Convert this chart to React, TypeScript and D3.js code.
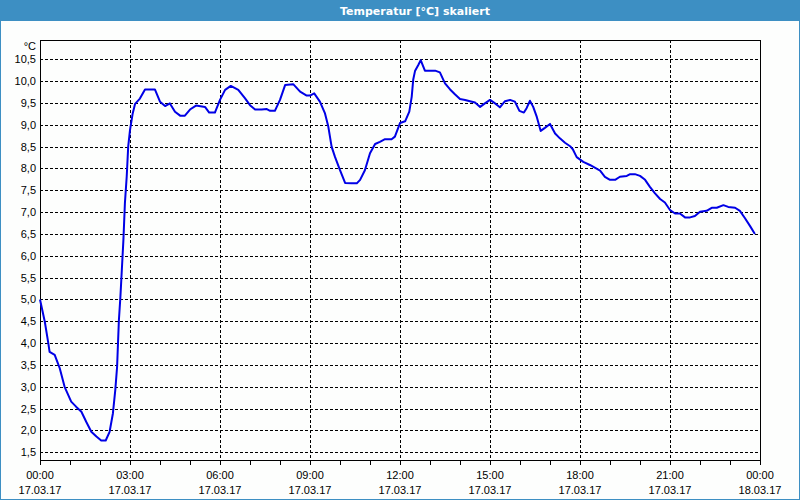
import React from "react";
import * as d3 from "d3";

// time in hours since 17.03.17 00:00, temperature in °C
const hours: number[] = [
  0.0, 0.16, 0.27, 0.32, 0.49, 0.66, 0.82, 1.04, 1.21, 1.38, 1.54, 1.71, 1.88, 2.04, 2.19, 2.32, 2.43, 2.51, 2.57, 2.6,
  2.63, 2.68, 2.71, 2.78, 2.83, 2.89, 2.94, 3.0, 3.09, 3.17, 3.33, 3.5, 3.83, 4.0, 4.17, 4.33, 4.5, 4.67, 4.83, 5.0,
  5.2, 5.5, 5.64, 5.83, 6.0, 6.17, 6.36, 6.61, 6.83, 7.0, 7.17, 7.39, 7.56, 7.67, 7.83, 8.0, 8.17, 8.44, 8.67, 8.89,
  9.0, 9.14, 9.33, 9.5, 9.61, 9.72, 9.83, 10.0, 10.17, 10.39, 10.56, 10.67, 10.83, 11.0, 11.17, 11.33, 11.5, 11.72,
  11.83, 12.0, 12.17, 12.31, 12.39, 12.44, 12.5, 12.61, 12.69, 12.83, 13.17, 13.33, 13.5, 13.67, 13.83, 14.0, 14.17,
  14.33, 14.5, 14.67, 14.83, 15.0, 15.17, 15.33, 15.5, 15.67, 15.83, 15.98, 16.13, 16.22, 16.33, 16.44, 16.56, 16.69,
  16.83, 17.0, 17.17, 17.33, 17.5, 17.67, 17.76, 17.89, 18.11, 18.33, 18.67, 18.83, 19.0, 19.17, 19.33, 19.56, 19.67,
  19.83, 20.0, 20.17, 20.33, 20.5, 20.67, 20.83, 21.0, 21.17, 21.33, 21.5, 21.67, 21.83, 22.0, 22.22, 22.39, 22.56,
  22.78, 22.94, 23.17, 23.33, 23.5, 23.67, 23.83,
];
const temps: number[] = [
  5.0, 4.49, 4.03, 3.8, 3.73, 3.42, 3.0, 2.66, 2.54, 2.43, 2.2, 1.97, 1.86, 1.77, 1.77, 1.97, 2.39, 2.93, 3.46, 4.0,
  4.53, 5.06, 5.45, 6.36, 7.2, 7.81, 8.5, 8.88, 9.26, 9.48, 9.6, 9.81, 9.81, 9.53, 9.43, 9.49, 9.3, 9.21, 9.21, 9.35,
  9.44, 9.41, 9.28, 9.28, 9.57, 9.8, 9.89, 9.8, 9.61, 9.45, 9.35, 9.35, 9.36, 9.32, 9.32, 9.57, 9.91, 9.93, 9.76, 9.67,
  9.67, 9.72, 9.53, 9.26, 8.96, 8.5, 8.27, 7.96, 7.67, 7.66, 7.66, 7.74, 7.96, 8.35, 8.56, 8.61, 8.67, 8.67,
  8.73, 9.04, 9.08, 9.3, 9.64, 10.03, 10.23, 10.37, 10.48, 10.24, 10.24, 10.2, 9.95, 9.81, 9.7, 9.59, 9.57,
  9.54, 9.51, 9.41, 9.49, 9.57, 9.49, 9.4, 9.54, 9.57, 9.53, 9.32, 9.28, 9.38, 9.55, 9.41, 9.18, 8.86,
  8.93, 9.02, 8.8, 8.69, 8.59, 8.51, 8.44, 8.26, 8.15, 8.08, 7.95, 7.81, 7.74, 7.74, 7.81, 7.83, 7.87,
  7.87, 7.83, 7.74, 7.58, 7.43, 7.3, 7.22, 7.05, 6.97, 6.97, 6.88, 6.88, 6.91, 7.01, 7.03, 7.1, 7.1,
  7.16, 7.12, 7.1, 7.03, 6.86, 6.68, 6.5,
];

const yTicks: number[] = [1.5, 2, 2.5, 3, 3.5, 4, 4.5, 5, 5.5, 6, 6.5, 7, 7.5, 8, 8.5, 9, 9.5, 10, 10.5];
const xTickHours: number[] = [0, 3, 6, 9, 12, 15, 18, 21, 24];
const xTimeLabels: string[] = ["00:00", "03:00", "06:00", "09:00", "12:00", "15:00", "18:00", "21:00", "00:00"];
const xDateLabels: string[] = [
  "17.03.17", "17.03.17", "17.03.17", "17.03.17", "17.03.17", "17.03.17", "17.03.17", "17.03.17", "18.03.17",
];
const title = "Temperatur [°C] skaliert";
const unit = "°C";

export default function App() {
  const W = 800;
  const H = 500;
  const left = 40, right = 760, top = 40, bottom = 460;
  const x = d3.scaleLinear().domain([0, 24]).range([left, right]);
  const y = d3.scaleLinear().domain([1.324, 10.942]).range([bottom, top]);
  const data = hours.map((h, i) => [h, temps[i]] as [number, number]);
  const line = d3.line<[number, number]>().x((d) => x(d[0])).y((d) => y(d[1]));
  const minor = d3.range(0, 25, 1);
  const font = "'Liberation Sans', Arial, sans-serif";
  const blue = "#3d8fc3";
  return (
    <svg width={W} height={H} style={{ position: "absolute", left: 0, top: 0, display: "block" }}>
      <rect x={0} y={0} width={W} height={H} fill="#fdfefd" />
      <rect x={0.5} y={0.5} width={W - 1} height={H - 1} fill="none" stroke={blue} strokeWidth={1} />
      <rect x={0} y={0} width={W} height={21} fill={blue} />
      <text x={W / 2 + 15} y={15} textAnchor="middle" fill="#fff" fontFamily="'DejaVu Sans', Verdana, sans-serif" fontWeight="bold" fontSize={11}>
        {title}
      </text>
      {/* grid */}
      {yTicks.map((t) => (
        <line key={"gy" + t} x1={left} x2={right} y1={Math.round(y(t)) + 0.5} y2={Math.round(y(t)) + 0.5} stroke="#000" strokeDasharray="3,2" shapeRendering="crispEdges" />
      ))}
      {xTickHours.slice(1, -1).map((h) => (
        <line key={"gx" + h} x1={Math.round(x(h)) + 0.5} x2={Math.round(x(h)) + 0.5} y1={top} y2={bottom} stroke="#000" strokeDasharray="3,2" shapeRendering="crispEdges" />
      ))}
      <rect x={left + 0.5} y={top + 0.5} width={right - left} height={bottom - top} fill="none" stroke="#000" shapeRendering="crispEdges" />
      {minor.map((h) => (
        <line key={"mt" + h} x1={Math.round(x(h)) + 0.5} x2={Math.round(x(h)) + 0.5} y1={bottom} y2={bottom + 5} stroke="#000" shapeRendering="crispEdges" />
      ))}
      {/* line */}
      <path d={line(data) || ""} fill="none" stroke="#0000e6" strokeWidth={2} strokeLinejoin="round" />
      {/* y labels */}
      {yTicks.map((t) => (
        <text key={"yl" + t} x={36} y={y(t) + 4} textAnchor="end" fontFamily={font} fontSize={11} fill="#000">
          {d3.format(".1f")(t).replace(".", ",")}
        </text>
      ))}
      <text x={36} y={50} textAnchor="end" fontFamily={font} fontSize={11} fill="#000">{unit}</text>
      {xTickHours.map((h, i) => (
        <g key={"xl" + h}>
          <text x={x(h)} y={479} textAnchor="middle" fontFamily={font} fontSize={11} fill="#000">{xTimeLabels[i]}</text>
          <text x={x(h)} y={494} textAnchor="middle" fontFamily={font} fontSize={11} fill="#000">{xDateLabels[i]}</text>
        </g>
      ))}
    </svg>
  );
}
